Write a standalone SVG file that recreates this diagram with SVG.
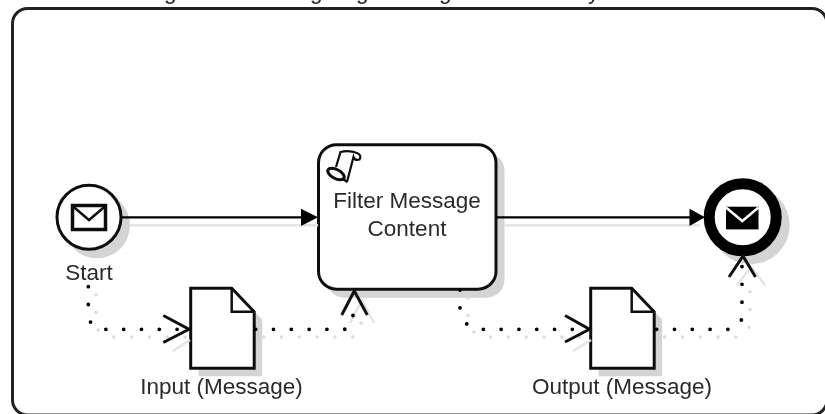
<svg xmlns="http://www.w3.org/2000/svg" width="825" height="414" viewBox="0 0 825 414">
<defs>
<filter id="soft" x="-2%" y="-2%" width="104%" height="104%"><feGaussianBlur stdDeviation="0.55"/></filter>
<path id="docshape" d="M0 0H41L63.500 23.500V80H0Z"/>
<path id="docfold" d="M41 0V23.500H63.500"/>
</defs>
<style>
text{font-family:"Liberation Sans",Arial,sans-serif;font-size:22.500px;fill:#2a2a2a;text-anchor:middle}
.shadow{fill:#d4d4d4;stroke:none}
.lineshadow{fill:none;stroke:#e4e4e4;stroke-width:2.500}
.dotshadow{fill:none;stroke:#dcdcdc;stroke-width:3.500;stroke-linecap:round;stroke-dasharray:0 17.800}
.seq{fill:none;stroke:#000;stroke-width:2.200}
.dots{fill:none;stroke:#000;stroke-width:3.800;stroke-linecap:round;stroke-dasharray:0 17.800}
.open{fill:none;stroke:#111;stroke-width:3}
.head{fill:#000}
.outline{fill:#fff;stroke:#111;stroke-width:3}
.icon{fill:none;stroke:#111;stroke-width:2.500}
</style>
<rect width="825" height="414" fill="#fff"/>
<g filter="url(#soft)">
<g id="frame">
<rect x="12.500" y="8.500" width="814.500" height="406.500" rx="15" fill="#fff" stroke="#222" stroke-width="3"/>
<text style="text-anchor:start;fill:#222" x="164 310 356 439 588" y="-1.500">ggggy</text>
</g>
<g id="start">
<circle class="shadow" cx="97" cy="225.300" r="33"/>
<circle class="outline" cx="89" cy="217.300" r="32"/>
<rect x="72.500" y="205.500" width="33" height="24" fill="#fff" stroke="#111" stroke-width="3.500"/>
<path class="icon" d="M72.500 206L89 220L105.500 206"/>
<text x="89" y="280">Start</text>
</g>
<g id="task">
<rect class="shadow" x="326.500" y="152.700" width="178" height="145" rx="18"/>
<rect class="outline" x="318.500" y="144.700" width="177.500" height="144.500" rx="18"/>
<path d="M336 167L340.500 152Q349 150 357 153Q362 155 359.500 159.500Q355 161 353.500 157L347 182" fill="none" stroke="#111" stroke-width="2.200"/>
<ellipse cx="336" cy="174" rx="9" ry="4.500" transform="rotate(28 336 174)" fill="#fff" stroke="#111" stroke-width="3"/>
<path class="icon" d="M342 178.500L347.500 182"/>
<text x="407" y="208">Filter Message</text>
<text x="407" y="236">Content</text>
</g>
<g id="input">
<use href="#docshape" class="shadow" x="198.700" y="296.300"/>
<use href="#docshape" class="outline" x="190.700" y="288.300"/>
<use href="#docfold" class="icon" x="190.700" y="288.300" stroke-width="3"/>
<text x="221.500" y="394">Input (Message)</text>
</g>
<g id="output">
<use href="#docshape" class="shadow" x="598.700" y="296.300"/>
<use href="#docshape" class="outline" x="590.700" y="288.300"/>
<use href="#docfold" class="icon" x="590.700" y="288.300" stroke-width="3"/>
<text x="622" y="394">Output (Message)</text>
</g>
<g id="end">
<circle class="shadow" cx="750.700" cy="225.300" r="39"/>
<circle cx="742.700" cy="217.300" r="33.500" fill="#fff" stroke="#000" stroke-width="11"/>
<rect x="726" y="206.700" width="32.500" height="22.700" fill="#000"/>
<path d="M726 207.500L742.300 221L758.500 207.500" fill="none" stroke="#fff" stroke-width="2.500"/>
</g>
<g id="connectors">
<path class="lineshadow" d="M130 225.300H318M504 225.300H700"/>
<path class="lineshadow" d="M173 351L190 340M573 351L591 340"/>
<path class="dotshadow" d="M96 294.700V320Q96 337 114 337H190M263.700 337H352Q361 337 361 323"/>
<path class="dotshadow" d="M468 298V320Q470 337 491 337H590M664.700 337H736Q750 337 750 320V290"/>
<path class="lineshadow" d="M350 323L362 300L374 323M737 285L751 267L765 285"/>
<path class="seq" d="M122 217.300H305"/>
<path class="head" d="M301 208.700L318 217.300L301 226Z"/>
<path class="seq" d="M496 217.300H694"/>
<path class="head" d="M689.500 208.700L705 217.300L689.500 226Z"/>
<path class="dots" d="M88.300 286.700V312Q88.300 329.300 106 329.300H190"/>
<path class="open" d="M163.300 315.500L189 329.300L163.300 342.500"/>
<path class="dots" d="M255.700 329.300H344Q353 329.300 353 314"/>
<path class="open" d="M341.700 315L354.300 291L367.300 315"/>
<path class="dots" d="M460 290V308Q462 329.300 483 329.300H588"/>
<path class="open" d="M565 315.500L589.500 329.300L565 342"/>
<path class="dots" d="M656.700 329.300H728Q742 329.300 742 314V265"/>
<path class="open" d="M729 277L743 256L755.500 277"/>
</g>
</g>
</svg>
